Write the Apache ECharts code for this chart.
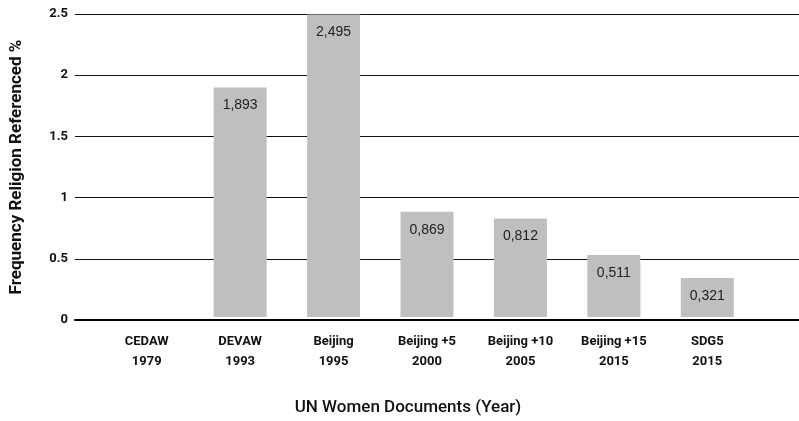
<!DOCTYPE html>
<html>
<head>
<meta charset="utf-8">
<script src="https://cdn.jsdelivr.net/npm/echarts@6/dist/echarts.min.js"></script>
<style>
  html, body { margin: 0; padding: 0; background: #fff; }
  #chart { width: 799px; height: 421px; }
</style>
</head>
<body>
<div id="chart"></div>
<script>
// documents and year, shown on two lines
const documents = ['CEDAW', 'DEVAW', 'Beijing', 'Beijing +5', 'Beijing +10', 'Beijing +15', 'SDG5'];
const years = ['1979', '1993', '1995', '2000', '2005', '2015', '2015'];
const frequency = [0, 1.893, 2.495, 0.869, 0.812, 0.511, 0.321];
const yTicks = [0, 0.5, 1, 1.5, 2, 2.5];

const narrow = 'Roboto, "Liberation Sans Narrow", sans-serif';
const categories = documents.map((d, i) => d + '\n' + years[i]);

const chart = echarts.init(document.getElementById('chart'));

let option = {
	animation: false,
	grid: [
		// grid for gridlines + y labels (spans the full plot width)
		{ left: 75, right: 0, top: 14, height: 306 },
		// grid for the bars and category labels
		{ left: 100, width: 654, top: 14, height: 306 }
	],
	xAxis: [{
		gridIndex: 0,
		type: 'value',
		min: 0,
		max: 1,
		axisLine: { show: true, onZero: false, lineStyle: { color: '#000', width: 2 } },
		axisTick: { show: false },
		axisLabel: { show: false },
		splitLine: { show: false }
	}, {
		gridIndex: 1,
		type: 'category',
		data: categories,
		axisLine: { show: false },
		axisTick: { show: false },
		axisLabel: {
			interval: 0,
			margin: 15,
			fontFamily: narrow,
			fontWeight: 'bold',
			fontSize: 13,
			lineHeight: 20,
			color: '#111'
		},
		name: 'UN Women Documents (Year)',
		nameLocation: 'middle',
		nameGap: 82,
		nameTextStyle: {
			fontFamily: narrow,
			fontWeight: 500,
			fontSize: 17,
			color: '#111',
			padding: [0, 38, 0, 0]
		}
	}],
	yAxis: [{
		gridIndex: 0,
		type: 'value',
		min: yTicks[0],
		max: yTicks[yTicks.length - 1],
		interval: 0.5,
		axisLine: { show: false },
		axisTick: { show: false },
		axisLabel: {
			margin: 7,
			fontFamily: narrow,
			fontWeight: 'bold',
			fontSize: 13,
			color: '#111'
		},
		splitLine: { lineStyle: { color: '#111', width: 1 } },
		name: 'Frequency Religion Referenced %',
		nameLocation: 'middle',
		nameGap: 50,
		nameTextStyle: {
			fontFamily: narrow,
			fontWeight: 'bold',
			fontSize: 17,
			color: '#111'
		}
	}, {
		gridIndex: 1,
		type: 'value',
		min: yTicks[0],
		max: yTicks[yTicks.length - 1],
		show: false
	}],
	series: [{
		type: 'bar',
		xAxisIndex: 1,
		yAxisIndex: 1,
		data: frequency,
		barWidth: 53,
		itemStyle: { color: '#bebfc1' },
		z: 3,
		label: {
			show: true,
			position: 'insideTop',
			distance: 11,
			fontFamily: '"Liberation Sans", Arial, sans-serif',
			fontSize: 14,
			color: '#222',
			formatter: function (p) {
				return p.value ? p.value.toFixed(3).replace('.', ',') : '';
			}
		}
	}]
};

chart.setOption(option);
</script>
</body>
</html>
